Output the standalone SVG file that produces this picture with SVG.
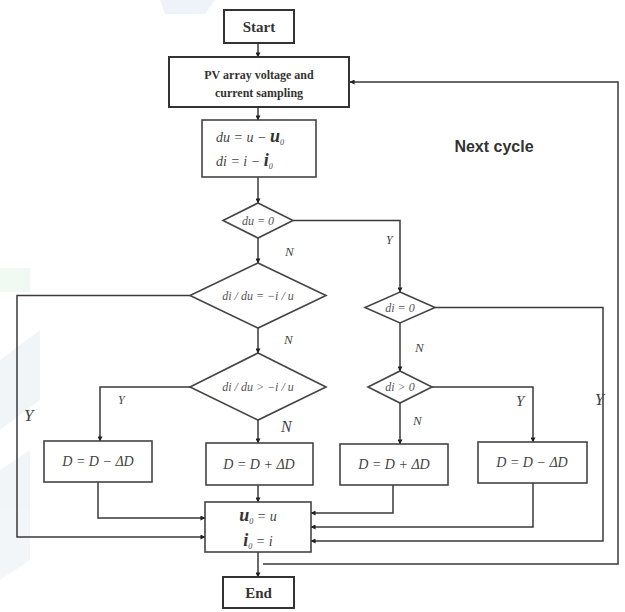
<svg xmlns="http://www.w3.org/2000/svg" width="625" height="612" viewBox="0 0 625 612">
<style>
.box{fill:#fff;stroke:#444;stroke-width:1.6}
.bx2{fill:#fff;stroke:#333;stroke-width:2}
.c{fill:none;stroke:#3a3a3a;stroke-width:1.5}
.t{font-family:"Liberation Serif",serif;fill:#333}
.b{font-weight:bold}
.m{font-family:"Liberation Serif",serif;font-style:italic;fill:#444;font-size:14px}
.d{font-family:"Liberation Serif",serif;font-style:italic;fill:#555;font-size:12px}
.l{font-family:"Liberation Serif",serif;font-style:italic;fill:#444}
</style>
<defs>
<marker id="a" viewBox="0 0 6 6" refX="5.5" refY="3" markerWidth="5" markerHeight="5" orient="auto" markerUnits="userSpaceOnUse">
<path d="M0,0 L6,3 L0,6 Z" fill="#222"/>
</marker>
</defs>
<rect width="625" height="612" fill="#fff"/>
<g id="watermark" opacity="0.5">
<polygon points="160,0 215,0 205,14 165,14" fill="#dbe7f3"/>
<rect x="0" y="268" width="30" height="24" fill="#e3f5e6"/>
<polygon points="0,360 40,330 40,400 0,430" fill="#e6edf3"/>
<polygon points="0,470 30,450 30,560 0,580" fill="#e6edf3"/>
</g>
<g id="connectors">
<path class="c" d="M258,43 V57" marker-end="url(#a)"/>
<path class="c" d="M258,107 V120" marker-end="url(#a)"/>
<path class="c" d="M258,177 V203" marker-end="url(#a)"/>
<path class="c" d="M258,238 V263" marker-end="url(#a)"/>
<path class="c" d="M293,220.5 H400 V292" marker-end="url(#a)"/>
<path class="c" d="M258,328 V353" marker-end="url(#a)"/>
<path class="c" d="M190,295.5 H17 V537 H205" marker-end="url(#a)"/>
<path class="c" d="M190,387 H100 V441" marker-end="url(#a)"/>
<path class="c" d="M258,420 V443" marker-end="url(#a)"/>
<path class="c" d="M98,482 V518 H205" marker-end="url(#a)"/>
<path class="c" d="M258,485 V502" marker-end="url(#a)"/>
<path class="c" d="M400,323 V371" marker-end="url(#a)"/>
<path class="c" d="M435,307.5 H603 V541 H311" marker-end="url(#a)"/>
<path class="c" d="M400,403 V444" marker-end="url(#a)"/>
<path class="c" d="M432,387 H533 V442" marker-end="url(#a)"/>
<path class="c" d="M393,485 V513 H311" marker-end="url(#a)"/>
<path class="c" d="M533,483 V527 H311" marker-end="url(#a)"/>
<path class="c" d="M258,552 V577" marker-end="url(#a)"/>
<path class="c" d="M263,564 H618 V82 H350" marker-end="url(#a)"/>
</g>
<g id="start">
<rect class="bx2" x="224" y="10" width="70" height="33"/>
<text class="t b" x="259" y="32" font-size="15" text-anchor="middle">Start</text>
</g>
<g id="sampling">
<rect class="bx2" x="169" y="57" width="180" height="50"/>
<text class="t b" x="259" y="79" font-size="12" text-anchor="middle">PV array voltage and</text>
<text class="t b" x="259" y="97" font-size="12" text-anchor="middle">current sampling</text>
</g>
<g id="diff">
<rect class="box" x="202" y="120" width="114" height="57"/>
<text class="m" x="216" y="142">du = u − <tspan font-size="18" font-weight="bold" fill="#333">u</tspan><tspan font-size="8" dy="3">0</tspan></text>
<text class="m" x="216" y="166">di = i − <tspan font-size="18" font-weight="bold" fill="#333">i</tspan><tspan font-size="8" dy="3">0</tspan></text>
</g>
<g id="du0">
<polygon class="box" points="258,203 293,220.5 258,238 223,220.5"/>
<text class="d" x="258" y="224.5" text-anchor="middle">du = 0</text>
</g>
<g id="eq">
<polygon class="box" points="258,263 326,295.5 258,328 190,295.5"/>
<text class="d" x="258" y="299.5" text-anchor="middle">di / du = −i / u</text>
</g>
<g id="gt">
<polygon class="box" points="258,353 326,387 258,420 190,387"/>
<text class="d" x="258" y="391" text-anchor="middle">di / du &gt; −i / u</text>
</g>
<g id="di0">
<polygon class="box" points="400,292 435,307.5 400,323 365,307.5"/>
<text class="d" x="400" y="311.5" text-anchor="middle">di = 0</text>
</g>
<g id="digt0">
<polygon class="box" points="400,371 432,387 400,403 368,387"/>
<text class="d" x="400" y="391" text-anchor="middle">di &gt; 0</text>
</g>
<g id="dec1">
<rect class="box" x="44" y="441" width="108" height="41"/>
<text class="m" x="98" y="466" text-anchor="middle">D = D − ΔD</text>
</g>
<g id="inc1">
<rect class="box" x="206" y="443" width="107" height="42"/>
<text class="m" x="259" y="469" text-anchor="middle">D = D + ΔD</text>
</g>
<g id="inc2">
<rect class="box" x="340" y="444" width="108" height="41"/>
<text class="m" x="394" y="469" text-anchor="middle">D = D + ΔD</text>
</g>
<g id="dec2">
<rect class="box" x="478" y="442" width="109" height="41"/>
<text class="m" x="532" y="467" text-anchor="middle">D = D − ΔD</text>
</g>
<g id="update">
<rect class="box" x="205" y="502" width="106" height="50"/>
<text class="m" x="258" y="521" text-anchor="middle"><tspan font-size="18" font-weight="bold" fill="#333">u</tspan><tspan font-size="8" dy="3">0</tspan><tspan dy="-3"> = u</tspan></text>
<text class="m" x="258" y="546" text-anchor="middle"><tspan font-size="18" font-weight="bold" fill="#333">i</tspan><tspan font-size="8" dy="3">0</tspan><tspan dy="-3"> = i</tspan></text>
</g>
<g id="end">
<rect class="bx2" x="223" y="577" width="71" height="31"/>
<text class="t b" x="258.5" y="598" font-size="15" text-anchor="middle">End</text>
</g>
<g id="labels">
<text x="494" y="152" font-family="Liberation Sans,sans-serif" font-weight="bold" font-size="16" fill="#333" text-anchor="middle">Next cycle</text>
<text class="l" x="285" y="256" font-size="13">N</text>
<text class="l" x="386" y="244" font-size="12">Y</text>
<text class="l" x="284" y="344" font-size="13">N</text>
<text class="l" x="415" y="352" font-size="13">N</text>
<text class="l" x="118" y="404" font-size="12">Y</text>
<text class="l" x="281" y="432" font-size="16">N</text>
<text class="l" x="413" y="425" font-size="13">N</text>
<text class="l" x="516" y="406" font-size="15">Y</text>
<text class="l" x="595" y="405" font-size="16">Y</text>
<text class="l" x="24" y="421" font-size="17">Y</text>
</g>
</svg>
